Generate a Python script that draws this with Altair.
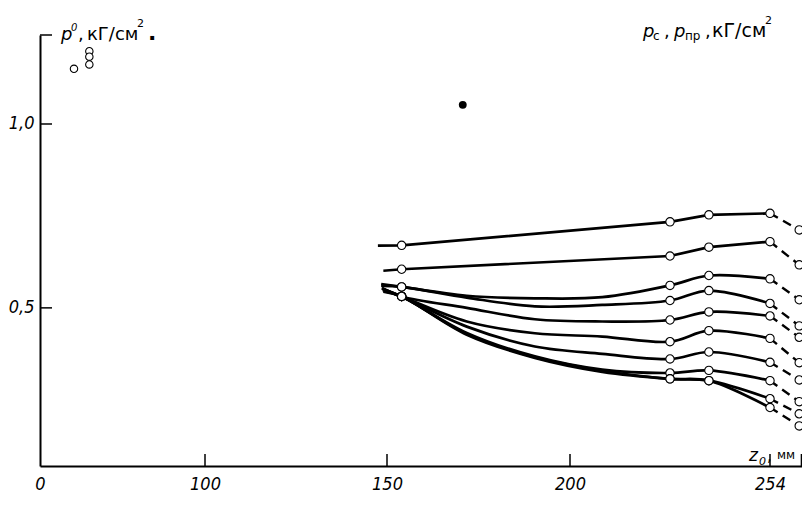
import altair as alt
import pandas as pd

# ---- data ----
line_ids = [1, 2, 3, 4, 5, 6, 7, 8, 9, 10]
z_start = [147.5, 149.0, 148.4, 148.4, 148.6, 148.6, 148.8, 148.8, 149.0, 149.0]
v_start = [0.669, 0.601, 0.565, 0.560, 0.554, 0.553, 0.552, 0.549, 0.546, 0.544]

z_inner = [171.8, 190.4, 208.7]
v_172 = [None, None, 0.533, 0.528, 0.500, 0.463, 0.449, 0.432, 0.429, 0.427]
v_190 = [None, None, 0.526, 0.504, 0.469, 0.431, 0.395, 0.368, 0.366, 0.364]
v_209 = [None, None, 0.529, 0.508, 0.463, 0.422, 0.375, 0.332, 0.329, 0.326]

z_marks = [154, 227, 237.5, 254, 264.5]
v_154 = [0.670, 0.605, 0.557, 0.557, 0.531, 0.531, 0.531, 0.531, 0.531, 0.531]
v_227 = [0.734, 0.641, 0.561, 0.520, 0.467, 0.408, 0.361, 0.323, 0.307, 0.307]
v_238 = [0.753, 0.665, 0.588, 0.547, 0.489, 0.438, 0.380, 0.330, 0.302, 0.302]
v_254 = [0.757, 0.680, 0.579, 0.512, 0.478, 0.417, 0.352, 0.302, 0.253, 0.229]
v_265 = [0.712, 0.617, 0.522, 0.451, 0.420, 0.351, 0.304, 0.245, 0.212, 0.179]

z_p0 = [20.6, 29.9, 29.9, 29.9]
v_p0 = [1.150, 1.198, 1.183, 1.162]
z_dot = [170.7]
v_dot = [1.052]

x_tick_labels = [0, 100, 150, 200, 254]
x_tick_marks = [100, 150, 200, 254, 265.3]
y_tick_labels = [0.5, 1.0]
y_tick_marks = [0.5, 1.0, 1.242]

# ---- build tables ----
solid_rows, dash_rows, mark_rows = [], [], []
for i, lid in enumerate(line_ids):
    pts = [(z_start[i], v_start[i]), (154, v_154[i])]
    for z, arr in zip(z_inner, [v_172, v_190, v_209]):
        if arr[i] is not None:
            pts.append((z, arr[i]))
    pts += [(227, v_227[i]), (237.5, v_238[i]), (254, v_254[i])]
    for k, (z, v) in enumerate(pts):
        solid_rows.append({"line": lid, "o": k, "z": z, "v": v})
    dash_rows.append({"line": lid, "o": 0, "z": 254, "v": v_254[i]})
    dash_rows.append({"line": lid, "o": 1, "z": 264.5, "v": v_265[i]})
    for z, arr in zip(z_marks, [v_154, v_227, v_238, v_254, v_265]):
        mark_rows.append({"line": lid, "z": z, "v": arr[i]})

solid = pd.DataFrame(solid_rows)
straight = solid[solid["line"] <= 2]
curved = solid[solid["line"] > 2]
dashed = pd.DataFrame(dash_rows)
marks = pd.DataFrame(mark_rows)
p0 = pd.DataFrame({"z": z_p0, "v": v_p0})
dot = pd.DataFrame({"z": z_dot, "v": v_dot})

W, H = 762, 431
NUM_FONT = "Liberation Sans Narrow, DejaVu Sans Condensed, sans-serif"
TXT_FONT = "DejaVu Sans, sans-serif"

xscale = alt.Scale(domain=[0, 100, 150, 200, 254, 265.5],
                   range=[0, 165, 347, 530, 730, 762], nice=False, zero=False)
yscale = alt.Scale(domain=[0.07, 1.242], nice=False, zero=False)

X = alt.X("z:Q", scale=xscale, title=None,
          axis=alt.Axis(values=x_tick_labels, ticks=False, grid=False, format="d",
                        labelPadding=9, labelFont=NUM_FONT, labelFontSize=18,
                        labelFontStyle="italic", labelColor="black",
                        domainColor="black", domainWidth=2, labelFlush=False))
Y = alt.Y("v:Q", scale=yscale, title=None,
          axis=alt.Axis(values=y_tick_labels, ticks=False, grid=False,
                        labelExpr="replace(format(datum.value, '.1f'), '.', ',')",
                        labelPadding=6, labelFont=NUM_FONT, labelFontSize=18,
                        labelFontStyle="italic", labelColor="black",
                        domainColor="black", domainWidth=2))

lines_straight = alt.Chart(straight).mark_line(
    color="black", strokeWidth=2.7).encode(x=X, y=Y, detail="line:N", order="o:Q")
lines_curved = alt.Chart(curved).mark_line(
    color="black", strokeWidth=2.7, interpolate="catmull-rom").encode(
    x=X, y=Y, detail="line:N", order="o:Q")
dash = alt.Chart(dashed).mark_line(color="black", strokeWidth=2.4,
                                   strokeDash=[9, 6]).encode(
    x=X, y=Y, detail="line:N", order="o:Q")
pts = alt.Chart(marks).mark_point(shape="circle", filled=True, fill="white",
                                  stroke="black", strokeWidth=1.1, size=70,
                                  opacity=1).encode(x=X, y=Y)
p0pts = alt.Chart(p0).mark_point(shape="circle", filled=True, fill="white",
                                 stroke="black", strokeWidth=1.1, size=55,
                                 opacity=1).encode(x=X, y=Y)
dotpt = alt.Chart(dot).mark_point(shape="circle", filled=True, fill="black",
                                  size=62, opacity=1).encode(x=X, y=Y)

xt = alt.Chart(pd.DataFrame({"z": x_tick_marks})).mark_rule(
    color="black", strokeWidth=1.5).encode(x=X, y=alt.value(H), y2=alt.value(H - 12))
yt = alt.Chart(pd.DataFrame({"v": y_tick_marks})).mark_rule(
    color="black", strokeWidth=1.5).encode(y=Y, x=alt.value(0), x2=alt.value(12))


def txt(s, x, y, size, style="normal", font=TXT_FONT, weight="normal"):
    return alt.Chart(pd.DataFrame({"a": [0]})).mark_text(
        text=s, x=x, y=y, fontSize=size, fontStyle=style, font=font,
        fontWeight=weight, align="left", baseline="alphabetic", color="black")


labels = [
    # left title: p0, кГ/см2
    txt("p", 21, 5, 18, "italic"),
    txt("0", 31, -4, 10, "italic"),
    txt(",", 38, 5, 18),
    txt("кГ/см", 47, 5, 18),
    txt("2", 97, -8, 11),
    txt(".", 108, 5, 22, weight="bold"),
    # right title: pс , pпр , кГ/см2
    txt("p", 603, 2, 18, "italic"),
    txt("с", 613, 5, 12),
    txt(",", 624, 2, 18),
    txt("p", 634, 2, 18, "italic"),
    txt("пр", 645, 5, 12),
    txt(",", 665, 2, 18),
    txt("кГ/см", 672, 2, 19),
    txt("2", 725, -11, 11),
    # x axis title: z0 , мм
    txt("z", 709, 426, 17, "italic"),
    txt("0", 719, 430, 11, "italic"),
    txt(",", 727, 426, 15),
    txt("мм", 737, 424, 12),
]

chart = alt.layer(lines_straight, lines_curved, dash, pts, p0pts, dotpt, xt, yt,
                  *labels).properties(
    width=W, height=H, autosize="none",
    padding={"left": 32, "top": 27, "right": 0, "bottom": 30},
).configure_view(stroke=None).configure_axis(grid=False)

chart.save("out.html", embed_options={"renderer": "svg", "actions": False})
